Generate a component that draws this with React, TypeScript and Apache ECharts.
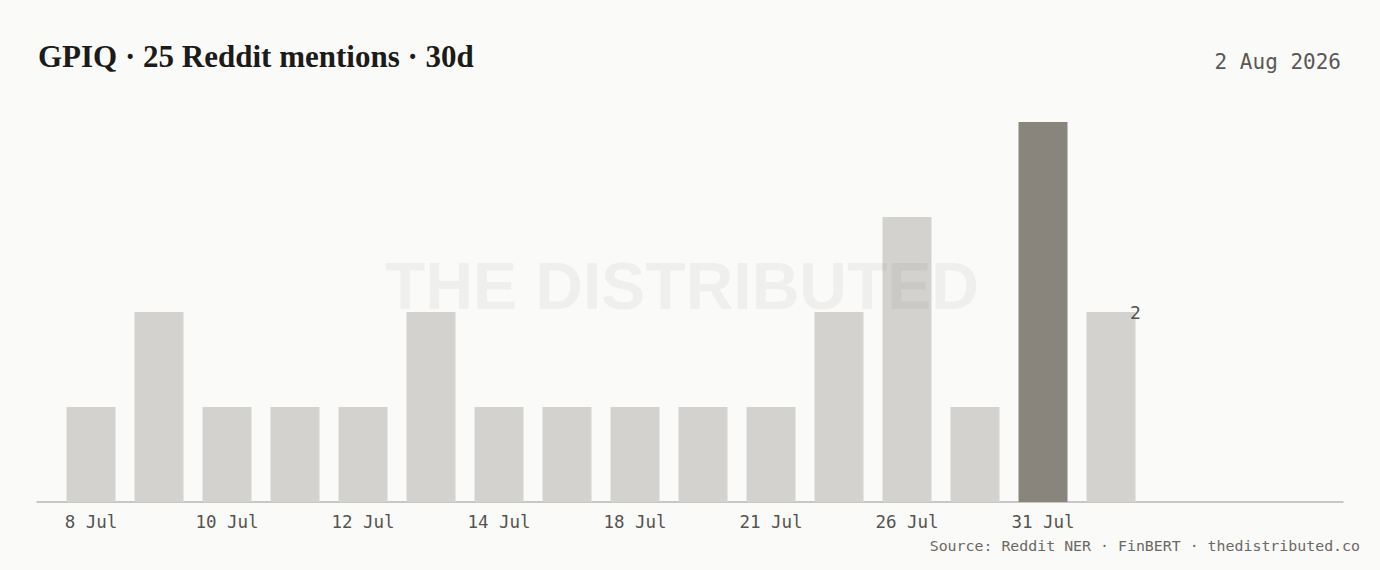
import React, { useEffect, useRef } from "react";
import * as echarts from "echarts";

const days = [
  "8 Jul", "9 Jul", "10 Jul", "11 Jul", "12 Jul", "13 Jul", "14 Jul", "16 Jul",
  "18 Jul", "19 Jul", "21 Jul", "23 Jul", "26 Jul", "28 Jul", "31 Jul", "1 Aug",
];
const mentions = [1, 2, 1, 1, 1, 2, 1, 1, 1, 1, 1, 2, 3, 1, 4, 2];
const peakDay = "31 Jul";
const labelledDay = "1 Aug";

const titleText = "GPIQ · 25 Reddit mentions · 30d";
const dateText = "2 Aug 2026";
const sourceText = "Source: Reddit NER · FinBERT · thedistributed.co";
const watermarkText = "THE DISTRIBUTED";

const MONO = "'DejaVu Sans Mono', 'Liberation Mono', monospace";

const App = () => {
  const ref = useRef<HTMLDivElement>(null);

  useEffect(() => {
    document.body.style.margin = "0";
    const chart = echarts.init(ref.current, null, { renderer: "svg" });

    const data = mentions.map((v, i) => {
      const item: any = { value: v };
      if (days[i] === peakDay) item.itemStyle = { color: "#8a857c" };
      if (days[i] === labelledDay) {
        item.label = {
          show: true,
          position: ["100%", 0],
          align: "center",
          verticalAlign: "middle",
          color: "#555350",
          fontFamily: MONO,
          fontSize: 18,
        };
      }
      return item;
    });

    chart.setOption({
      animation: false,
      backgroundColor: "#fafaf8",
      grid: [
        { left: 57, width: 1088, top: 122, height: 380 },
        { left: 37, right: 37, top: 122, height: 380 },
      ],
      xAxis: [
        {
          type: "category",
          data: days,
          gridIndex: 0,
          axisLine: { show: false },
          axisTick: { show: false },
          axisLabel: {
            interval: 1,
            color: "#555350",
            fontFamily: MONO,
            fontSize: 17.5,
            margin: 11,
          },
        },
        {
          type: "value",
          gridIndex: 1,
          min: 0,
          max: 1,
          axisLine: { show: true, lineStyle: { color: "#b8b6b2", width: 1.5 } },
          axisTick: { show: false },
          axisLabel: { show: false },
          splitLine: { show: false },
        },
      ],
      yAxis: [
        { type: "value", gridIndex: 0, min: 0, max: 4, show: false },
        { type: "value", gridIndex: 1, min: 0, max: 1, show: false },
      ],
      series: [
        {
          type: "bar",
          xAxisIndex: 0,
          yAxisIndex: 0,
          barWidth: 49,
          itemStyle: { color: "#d3d2cf" },
          data,
          z: 2,
        },
      ],
      graphic: [
        {
          type: "text",
          left: 38,
          top: 41,
          style: {
            text: titleText,
            fontFamily: "'Liberation Serif', 'DejaVu Serif', serif",
            fontWeight: "bold",
            fontSize: 31,
            fill: "#1c1b19",
          },
        },
        {
          type: "text",
          right: 39,
          top: 51,
          style: {
            text: dateText,
            fontFamily: MONO,
            fontSize: 21,
            fill: "#5a5855",
          },
        },
        {
          type: "text",
          right: 20,
          top: 538,
          style: {
            text: sourceText,
            fontFamily: MONO,
            fontSize: 14.9,
            fill: "#6b6965",
          },
        },
        {
          type: "text",
          x: 682,
          y: 286,
          z: 100,
          silent: true,
          style: {
            text: watermarkText,
            align: "center",
            verticalAlign: "middle",
            fontFamily: "'Liberation Sans', Arial, sans-serif",
            fontWeight: "bold",
            fontSize: 66,
            fill: "rgba(40,36,30,0.05)",
          },
        },
      ],
    });

    return () => {
      chart.dispose();
    };
  }, []);

  return <div ref={ref} style={{ width: 1380, height: 570 }} />;
};

export default App;
